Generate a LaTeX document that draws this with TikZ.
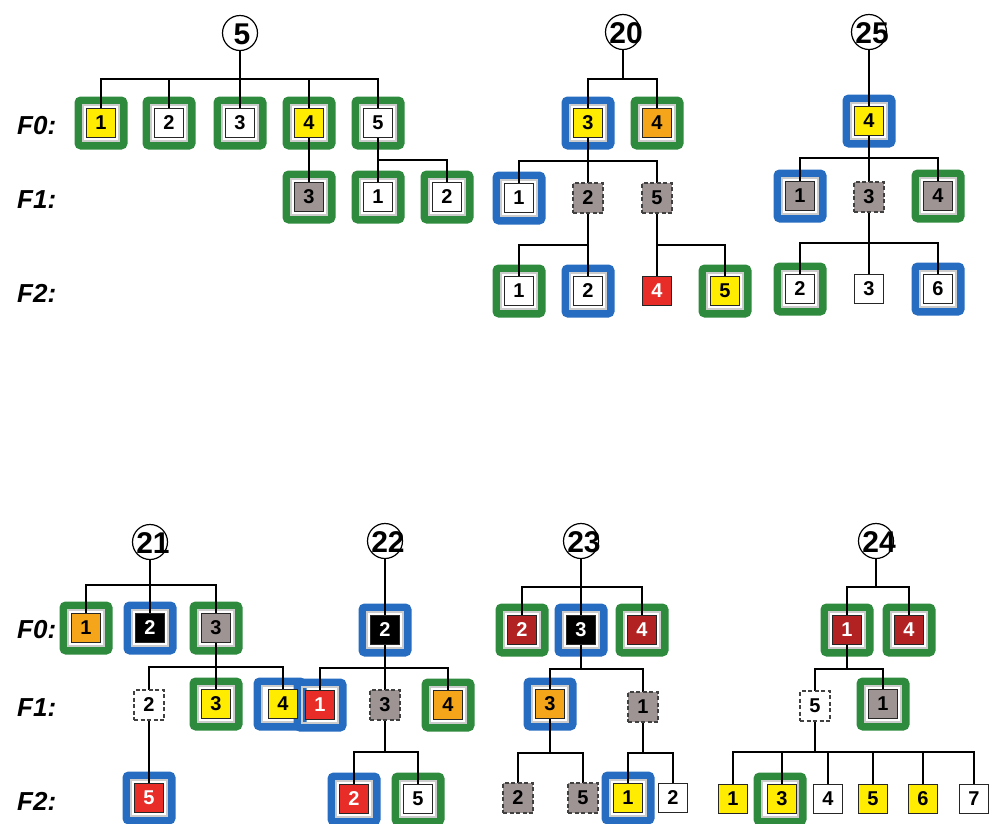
\documentclass[tikz,border=0pt]{standalone}
\usepackage{fontspec}
\setmainfont{Liberation Sans}
\usetikzlibrary{calc}
\definecolor{cGreen}{RGB}{46,139,62}
\definecolor{cBlue}{RGB}{38,108,192}
\definecolor{cYel}{RGB}{255,236,0}
\definecolor{cOra}{RGB}{245,165,25}
\definecolor{cGray}{RGB}{158,148,148}
\definecolor{cRed}{RGB}{232,44,40}
\definecolor{cDRed}{RGB}{178,34,34}
\pgfdeclarelayer{frames}
\pgfdeclarelayer{lines}
\pgfsetlayers{frames,lines,main}
\newcommand\tconn[3]{\draw[conn] (#1.center) -- (#1.center |- 0,#3) -| (#2.center);}
\newcommand\fr[3][0]{\node[#2] at ($(#3)+(#1,0)$) {}; \node[band] at ($(#3)+(#1,0)$) {};}
\tikzset{
  box/.style={draw=black!85, line width=1.1pt, minimum size=29pt, inner sep=0pt, fill=white,
    font=\fontsize{20}{20}\selectfont\bfseries},
  wb/.style={box},
  yb/.style={box, fill=cYel},
  ob/.style={box, fill=cOra},
  gb/.style={box, fill=cGray},
  rb/.style={box, fill=cRed, text=white},
  kb/.style={box, fill=black, text=white},
  db/.style={box, fill=cDRed, text=white},
  dsh/.style={dash pattern=on 4pt off 2.5pt, minimum size=30pt, draw=black!75, line width=1.3pt},
  root/.style={circle, draw, line width=1.2pt, minimum size=35pt, inner sep=0pt, fill=white},
  rtxt/.style={inner sep=0pt, font=\fontsize{30}{30}\selectfont\bfseries},
  lab/.style={anchor=west, inner sep=0pt, font=\fontsize{26}{26}\selectfont\bfseries\itshape},
  gfr/.style={draw=cGreen, line width=8pt, rounded corners=2.5pt, minimum size=45pt, inner sep=0pt},
  bfr/.style={gfr, draw=cBlue},
  band/.style={draw=black!20, line width=1.6pt, minimum size=35.5pt, inner sep=0pt},
  conn/.style={line width=1.3pt, black}
}
\begin{document}
\begin{tikzpicture}[x=1pt, y=-1pt]
\useasboundingbox (0,0) rectangle (989,823);
% labels
\node[lab] (l1) at (17,126) {F0:};
\node[lab] (l2) at (17,200) {F1:};
\node[lab] (l3) at (17,293) {F2:};
\node[lab] (l4) at (17,630) {F0:};
\node[lab] (l5) at (17,708) {F1:};
\node[lab] (l6) at (17,801) {F2:};
% tree 5
\node[root] (r5) at (240,33) {};
\node[rtxt] (t5) at (242,34) {5};
\node[yb] (a1) at (101,123) {1};
\node[wb] (a2) at (169,123) {2};
\node[wb] (a3) at (240,123) {3};
\node[yb] (a4) at (309,123) {4};
\node[wb] (a5) at (378,123) {5};
\node[gb] (a6) at (309,197) {3};
\node[wb] (a7) at (378,197) {1};
\node[wb] (a8) at (447,197) {2};
% tree 20
\node[root] (r20) at (623,32) {};
\node[rtxt] (t20) at (626,33) {20};
\node[yb] (b1) at (588,123) {3};
\node[ob] (b2) at (657,123) {4};
\node[wb] (b3) at (519,198) {1};
\node[gb,dsh] (b4) at (588,198) {2};
\node[gb,dsh] (b5) at (657,198) {5};
\node[wb] (b6) at (519,291) {1};
\node[wb] (b7) at (588,291) {2};
\node[rb] (b8) at (657,291) {4};
\node[yb] (b9) at (725,291) {5};
% tree 25
\node[root] (r25) at (869,32) {};
\node[rtxt] (t25) at (872,33) {25};
\node[yb] (c1) at (869,121) {4};
\node[gb] (c2) at (800,196) {1};
\node[gb,dsh] (c3) at (869,197) {3};
\node[gb] (c4) at (938,196) {4};
\node[wb] (c5) at (800,289) {2};
\node[wb] (c6) at (869,289) {3};
\node[wb] (c7) at (938,289) {6};
% tree 21
\node[root] (r21) at (150,542) {};
\node[rtxt] (t21) at (153,543) {21};
\node[ob] (d1) at (86,628) {1};
\node[kb] (d2) at (150,628) {2};
\node[gb] (d3) at (216,628) {3};
\node[wb,dsh] (d4) at (149,705) {2};
\node[yb] (d5) at (216,704) {3};
\node[yb] (d6) at (283,704) {4};
\node[rb] (d7) at (149,798) {5};
% tree 22
\node[root] (r22) at (385,541) {};
\node[rtxt] (t22) at (388,542) {22};
\node[kb] (e1) at (385,630) {2};
\node[rb] (e2) at (320,705) {1};
\node[gb,dsh] (e3) at (385,705) {3};
\node[ob] (e4) at (448,705) {4};
\node[rb] (e5) at (354,799) {2};
\node[wb] (e6) at (418,799) {5};
% tree 23
\node[root] (r23) at (581,541) {};
\node[rtxt] (t23) at (584,542) {23};
\node[db] (f1) at (522,630) {2};
\node[kb] (f2) at (581,630) {3};
\node[db] (f3) at (642,630) {4};
\node[ob] (f4) at (550,704) {3};
\node[gb,dsh] (f5) at (643,707) {1};
\node[gb,dsh] (f6) at (518,798) {2};
\node[gb,dsh] (f7) at (583,798) {5};
\node[yb] (f8) at (628,798) {1};
\node[wb] (f9) at (673,798) {2};
% tree 24
\node[root] (r24) at (876,541) {};
\node[rtxt] (t24) at (879,542) {24};
\node[db] (g1) at (847,630) {1};
\node[db] (g2) at (909,630) {4};
\node[wb,dsh] (g3) at (815,706) {5};
\node[gb] (g4) at (883,704) {1};
\node[yb] (g5) at (733,799) {1};
\node[yb] (g6) at (782,799) {3};
\node[wb] (g7) at (828,799) {4};
\node[yb] (g8) at (873,799) {5};
\node[yb] (g9) at (923,799) {6};
\node[wb] (g10) at (974,799) {7};
% frames
\begin{pgfonlayer}{frames}
\fr{gfr}{a1}\fr{gfr}{a2}\fr{gfr}{a3}\fr{gfr}{a4}\fr{gfr}{a5}\fr{gfr}{a6}\fr{gfr}{a7}\fr{gfr}{a8}
\fr{bfr}{b1}\fr{gfr}{b2}\fr{bfr}{b3}\fr{gfr}{b6}\fr{bfr}{b7}\fr{gfr}{b9}
\fr{bfr}{c1}\fr{bfr}{c2}\fr{gfr}{c4}\fr{gfr}{c5}\fr{bfr}{c7}
\fr{gfr}{d1}\fr{bfr}{d2}\fr{gfr}{d3}\fr{gfr}{d5}\fr[-3]{bfr}{d6}\fr{bfr}{d7}
\fr{bfr}{e1}\fr{bfr}{e2}\fr{gfr}{e4}\fr{bfr}{e5}\fr{gfr}{e6}
\fr{gfr}{f1}\fr{bfr}{f2}\fr{gfr}{f3}\fr{bfr}{f4}\fr{bfr}{f8}
\fr{gfr}{g1}\fr{gfr}{g2}\fr{gfr}{g4}\fr[-2]{gfr}{g6}
\end{pgfonlayer}
% connectors
\begin{pgfonlayer}{lines}
\tconn{r5}{a1}{79}\tconn{r5}{a2}{79}\tconn{r5}{a3}{79}\tconn{r5}{a4}{79}\tconn{r5}{a5}{79}
\draw[conn] (a4) -- (a6);
\tconn{a5}{a7}{160}\tconn{a5}{a8}{160}
\tconn{r20}{b1}{79}\tconn{r20}{b2}{79}
\tconn{b1}{b3}{161}\tconn{b1}{b4}{161}\tconn{b1}{b5}{161}
\tconn{b4}{b6}{245}\tconn{b4}{b7}{245}
\tconn{b5}{b8}{245}\tconn{b5}{b9}{245}
\draw[conn] (r25) -- (c1);
\tconn{c1}{c2}{158}\tconn{c1}{c3}{158}\tconn{c1}{c4}{158}
\tconn{c3}{c5}{243}\tconn{c3}{c6}{243}\tconn{c3}{c7}{243}
\tconn{r21}{d1}{585}\tconn{r21}{d2}{585}\tconn{r21}{d3}{585}
\tconn{d3}{d4}{667}\tconn{d3}{d5}{667}\tconn{d3}{d6}{667}
\draw[conn] (d4) -- (d7);
\draw[conn] (r22) -- (e1);
\tconn{e1}{e2}{668}\tconn{e1}{e3}{668}\tconn{e1}{e4}{668}
\tconn{e3}{e5}{752}\tconn{e3}{e6}{752}
\tconn{r23}{f1}{587}\tconn{r23}{f2}{587}\tconn{r23}{f3}{587}
\tconn{f2}{f4}{669}\tconn{f2}{f5}{669}
\tconn{f4}{f6}{753}\tconn{f4}{f7}{753}
\tconn{f5}{f8}{753}\tconn{f5}{f9}{753}
\tconn{r24}{g1}{587}\tconn{r24}{g2}{587}
\tconn{g1}{g3}{669}\tconn{g1}{g4}{669}
\tconn{g3}{g5}{752}\tconn{g3}{g6}{752}\tconn{g3}{g7}{752}\tconn{g3}{g8}{752}\tconn{g3}{g9}{752}\tconn{g3}{g10}{752}
\end{pgfonlayer}
\end{tikzpicture}
\end{document}
